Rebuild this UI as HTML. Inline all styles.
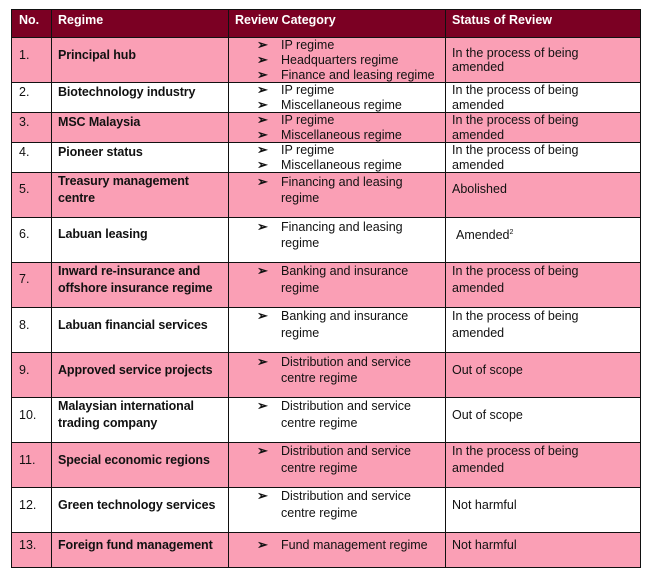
<!DOCTYPE html>
<html><head><meta charset="utf-8"><style>
body{margin:0;width:650px;height:577px;background:#fff;position:relative;overflow:hidden;font-family:"Liberation Sans",Arial,sans-serif;}
.r{position:absolute;left:11px;width:629px;}
.h{position:absolute;background:#111;height:1px;left:11px;width:630px;}
.v{position:absolute;background:#111;width:1px;top:9px;height:559px;}
.t{position:absolute;font-size:12.5px;line-height:16px;height:16px;white-space:nowrap;color:#111;}
.b{font-weight:bold;font-size:12.5px;letter-spacing:-0.1px;}
.w{color:#fff;font-weight:bold;font-size:12.5px;}
.bu{position:absolute;font-size:13px;font-weight:bold;line-height:16px;height:16px;left:257px;color:#111;}
sup{font-size:7px;vertical-align:5px;line-height:0;}
</style></head><body>
<div class="r" style="top:9px;height:28px;background:#7b0023"></div>
<div class="r" style="top:37px;height:45px;background:#fa9fb5"></div>
<div class="r" style="top:112px;height:30px;background:#fa9fb5"></div>
<div class="r" style="top:172px;height:45px;background:#fa9fb5"></div>
<div class="r" style="top:262px;height:45px;background:#fa9fb5"></div>
<div class="r" style="top:352px;height:45px;background:#fa9fb5"></div>
<div class="r" style="top:442px;height:45px;background:#fa9fb5"></div>
<div class="r" style="top:532px;height:35px;background:#fa9fb5"></div>

<div class="h" style="top:9px"></div>
<div class="h" style="top:37px"></div>
<div class="h" style="top:82px"></div>
<div class="h" style="top:112px"></div>
<div class="h" style="top:142px"></div>
<div class="h" style="top:172px"></div>
<div class="h" style="top:217px"></div>
<div class="h" style="top:262px"></div>
<div class="h" style="top:307px"></div>
<div class="h" style="top:352px"></div>
<div class="h" style="top:397px"></div>
<div class="h" style="top:442px"></div>
<div class="h" style="top:487px"></div>
<div class="h" style="top:532px"></div>
<div class="h" style="top:567px"></div>
<div class="v" style="left:11px"></div>
<div class="v" style="left:51px"></div>
<div class="v" style="left:228px"></div>
<div class="v" style="left:445px"></div>
<div class="v" style="left:640px"></div>

<div class="t w" style="left:19px;top:12px">No.</div>
<div class="t w" style="left:58px;top:12px">Regime</div>
<div class="t w" style="left:235px;top:12px">Review Category</div>
<div class="t w" style="left:452px;top:12px">Status of Review</div>

<div class="t" style="left:19px;top:47px">1.</div>
<div class="t b" style="left:58px;top:47px">Principal hub</div>
<div class="bu" style="top:37px">➢</div><div class="t" style="left:281px;top:37px">IP regime</div>
<div class="bu" style="top:52px">➢</div><div class="t" style="left:281px;top:52px">Headquarters regime</div>
<div class="bu" style="top:67px">➢</div><div class="t" style="left:281px;top:67px">Finance and leasing regime</div>
<div class="t" style="left:452px;top:45px">In the process of being</div>
<div class="t" style="left:452px;top:59px">amended</div>

<div class="t" style="left:19px;top:84px">2.</div>
<div class="t b" style="left:58px;top:84px">Biotechnology industry</div>
<div class="bu" style="top:82px">➢</div><div class="t" style="left:281px;top:82px">IP regime</div>
<div class="bu" style="top:97px">➢</div><div class="t" style="left:281px;top:97px">Miscellaneous regime</div>
<div class="t" style="left:452px;top:82px">In the process of being</div>
<div class="t" style="left:452px;top:97px">amended</div>

<div class="t" style="left:19px;top:114px">3.</div>
<div class="t b" style="left:58px;top:114px">MSC Malaysia</div>
<div class="bu" style="top:112px">➢</div><div class="t" style="left:281px;top:112px">IP regime</div>
<div class="bu" style="top:127px">➢</div><div class="t" style="left:281px;top:127px">Miscellaneous regime</div>
<div class="t" style="left:452px;top:112px">In the process of being</div>
<div class="t" style="left:452px;top:127px">amended</div>

<div class="t" style="left:19px;top:144px">4.</div>
<div class="t b" style="left:58px;top:144px">Pioneer status</div>
<div class="bu" style="top:142px">➢</div><div class="t" style="left:281px;top:142px">IP regime</div>
<div class="bu" style="top:157px">➢</div><div class="t" style="left:281px;top:157px">Miscellaneous regime</div>
<div class="t" style="left:452px;top:142px">In the process of being</div>
<div class="t" style="left:452px;top:157px">amended</div>

<div class="t" style="left:19px;top:181px">5.</div>
<div class="t b" style="left:58px;top:173px">Treasury management</div>
<div class="t b" style="left:58px;top:190px">centre</div>
<div class="bu" style="top:174px">➢</div><div class="t" style="left:281px;top:174px">Financing and leasing</div>
<div class="t" style="left:281px;top:190px">regime</div>
<div class="t" style="left:452px;top:181px">Abolished</div>

<div class="t" style="left:19px;top:226px">6.</div>
<div class="t b" style="left:58px;top:226px">Labuan leasing</div>
<div class="bu" style="top:219px">➢</div><div class="t" style="left:281px;top:219px">Financing and leasing</div>
<div class="t" style="left:281px;top:235px">regime</div>
<div class="t" style="left:456px;top:227px">Amended<sup>2</sup></div>

<div class="t" style="left:19px;top:271px">7.</div>
<div class="t b" style="left:58px;top:263px">Inward re-insurance and</div>
<div class="t b" style="left:58px;top:280px">offshore insurance regime</div>
<div class="bu" style="top:263px">➢</div><div class="t" style="left:281px;top:263px">Banking and insurance</div>
<div class="t" style="left:281px;top:280px">regime</div>
<div class="t" style="left:452px;top:263px">In the process of being</div>
<div class="t" style="left:452px;top:280px">amended</div>

<div class="t" style="left:19px;top:317px">8.</div>
<div class="t b" style="left:58px;top:317px">Labuan financial services</div>
<div class="bu" style="top:308px">➢</div><div class="t" style="left:281px;top:308px">Banking and insurance</div>
<div class="t" style="left:281px;top:325px">regime</div>
<div class="t" style="left:452px;top:308px">In the process of being</div>
<div class="t" style="left:452px;top:325px">amended</div>

<div class="t" style="left:19px;top:362px">9.</div>
<div class="t b" style="left:58px;top:362px">Approved service projects</div>
<div class="bu" style="top:354px">➢</div><div class="t" style="left:281px;top:354px">Distribution and service</div>
<div class="t" style="left:281px;top:370px">centre regime</div>
<div class="t" style="left:452px;top:362px">Out of scope</div>

<div class="t" style="left:19px;top:407px">10.</div>
<div class="t b" style="left:58px;top:398px">Malaysian international</div>
<div class="t b" style="left:58px;top:415px">trading company</div>
<div class="bu" style="top:398px">➢</div><div class="t" style="left:281px;top:398px">Distribution and service</div>
<div class="t" style="left:281px;top:415px">centre regime</div>
<div class="t" style="left:452px;top:407px">Out of scope</div>

<div class="t" style="left:19px;top:452px">11.</div>
<div class="t b" style="left:58px;top:452px">Special economic regions</div>
<div class="bu" style="top:443px">➢</div><div class="t" style="left:281px;top:443px">Distribution and service</div>
<div class="t" style="left:281px;top:460px">centre regime</div>
<div class="t" style="left:452px;top:443px">In the process of being</div>
<div class="t" style="left:452px;top:460px">amended</div>

<div class="t" style="left:19px;top:497px">12.</div>
<div class="t b" style="left:58px;top:497px">Green technology services</div>
<div class="bu" style="top:488px">➢</div><div class="t" style="left:281px;top:488px">Distribution and service</div>
<div class="t" style="left:281px;top:505px">centre regime</div>
<div class="t" style="left:452px;top:497px">Not harmful</div>

<div class="t" style="left:19px;top:537px">13.</div>
<div class="t b" style="left:58px;top:537px">Foreign fund management</div>
<div class="bu" style="top:537px">➢</div><div class="t" style="left:281px;top:537px">Fund management regime</div>
<div class="t" style="left:452px;top:537px">Not harmful</div>
</body></html>
